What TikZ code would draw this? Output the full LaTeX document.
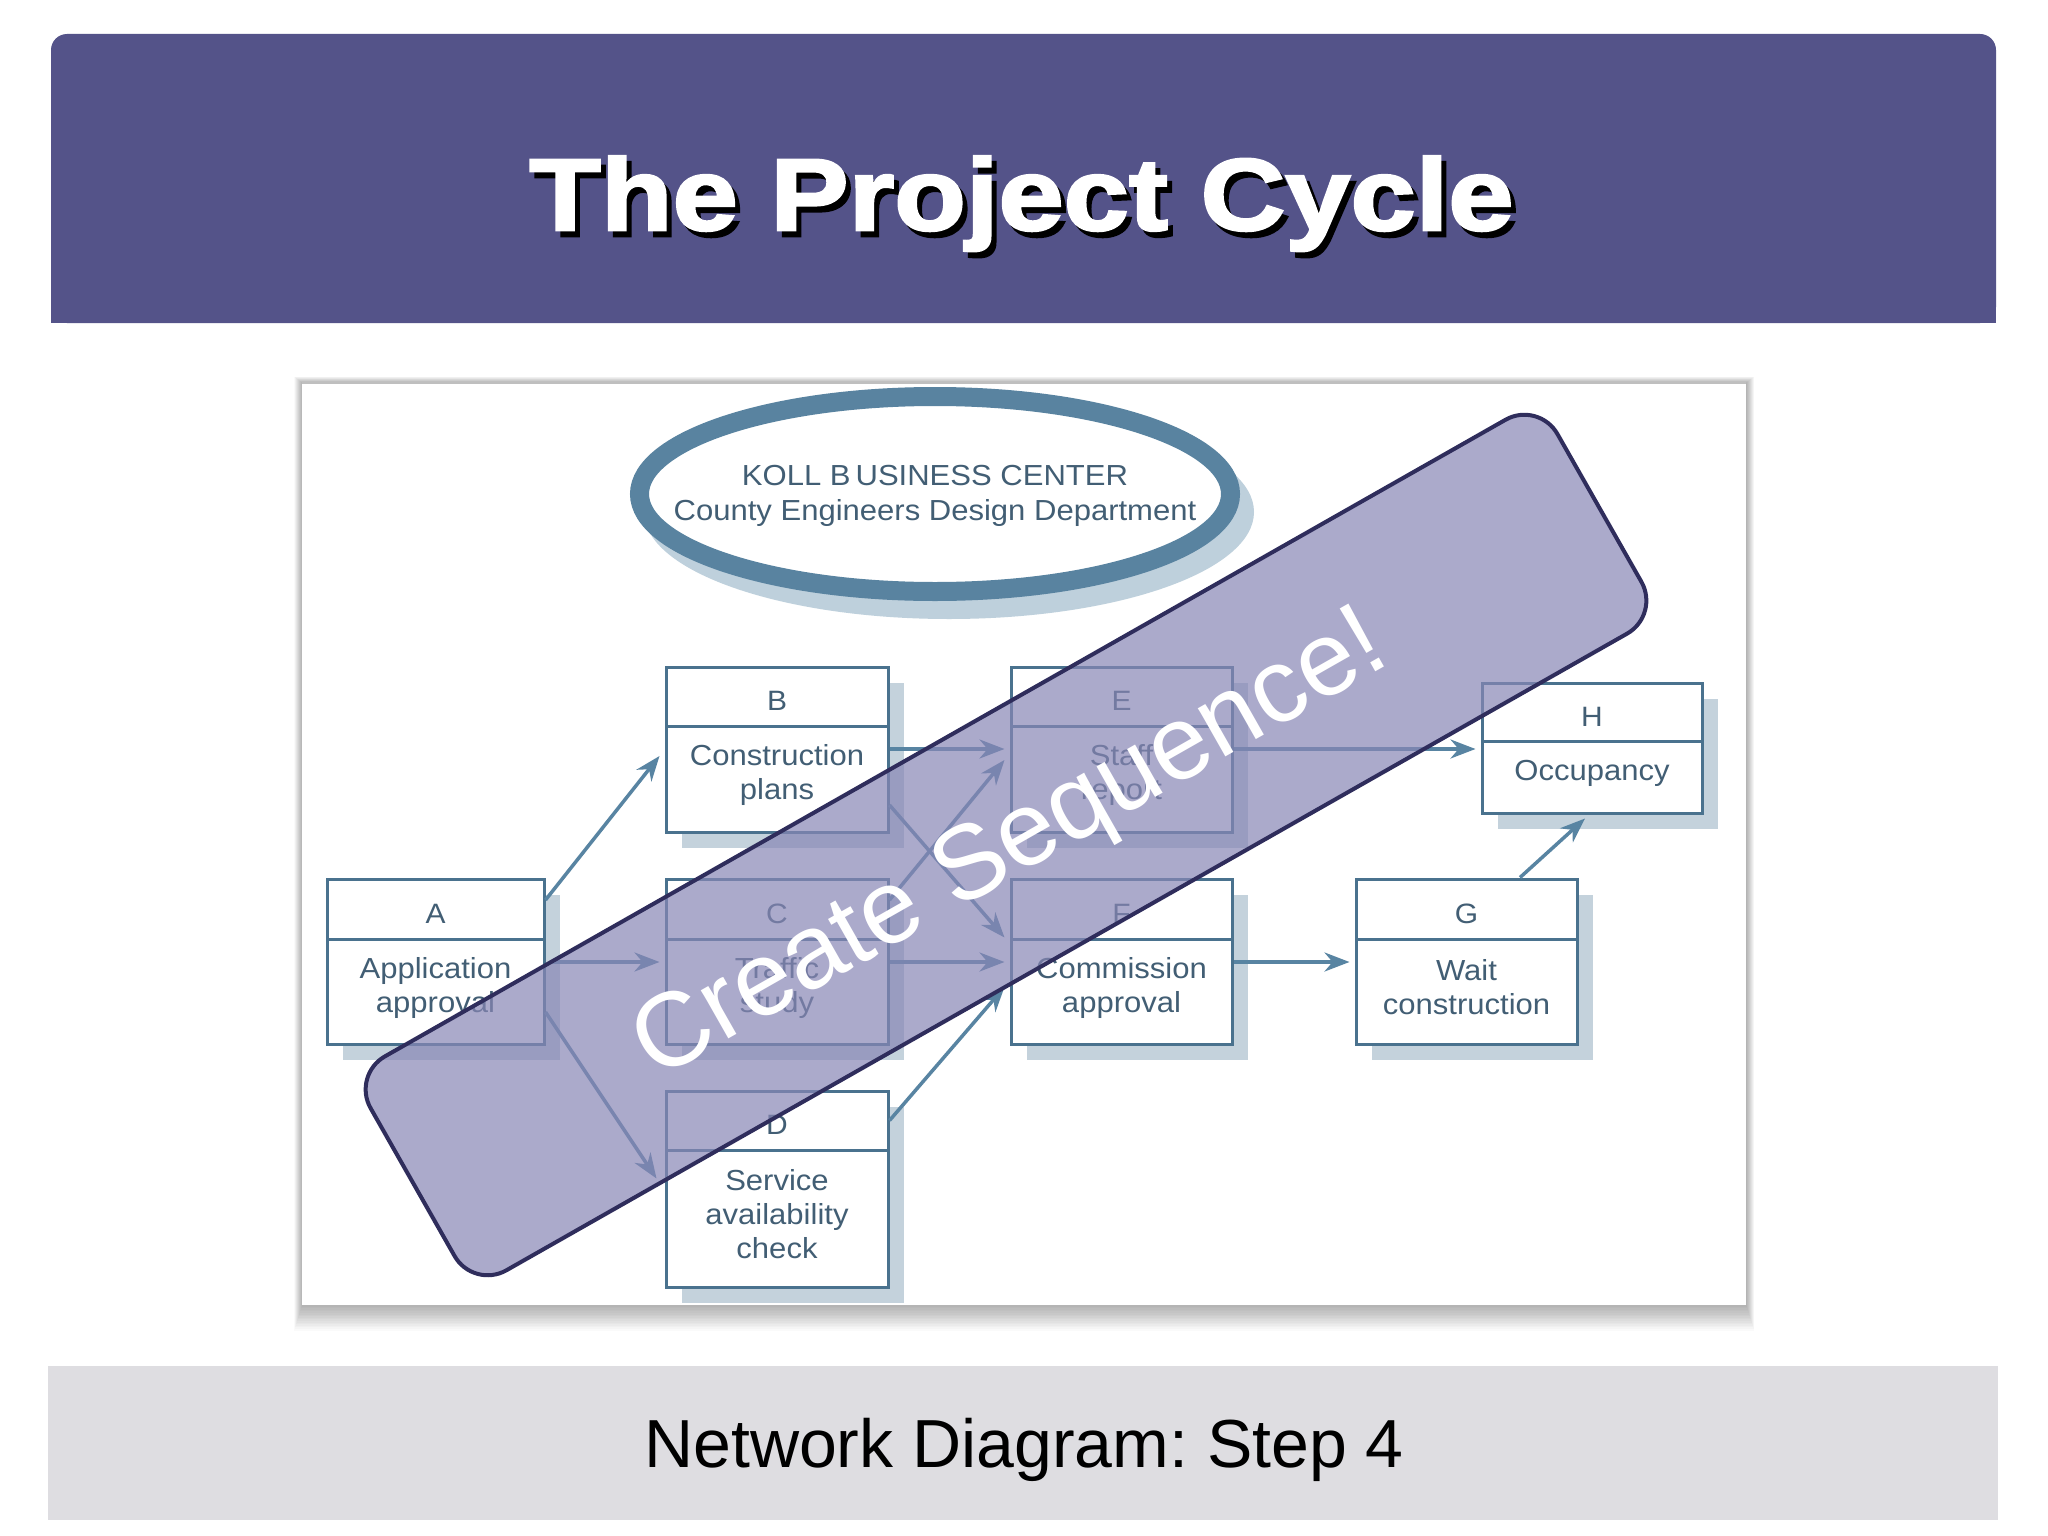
\documentclass[tikz,border=0pt]{standalone}
\usepackage{fontspec}
\usepackage{graphicx}
\setmainfont{Liberation Sans}
\newfontfamily\diagfont[FakeStretch=1.07]{Liberation Sans}
\newfontfamily\titlefont[FakeStretch=1.15,FakeBold=2.5]{Liberation Sans Bold}
\usetikzlibrary{arrows.meta}
\frenchspacing
\definecolor{headcol}{RGB}{84,83,137}
\definecolor{footcol}{RGB}{222,221,225}
\definecolor{ringcol}{RGB}{89,131,160}
\definecolor{ellshadow}{RGB}{190,208,220}
\definecolor{boxline}{RGB}{74,114,142}
\definecolor{boxshadow}{RGB}{196,210,220}
\definecolor{boxtext}{RGB}{66,94,116}
\definecolor{arrowcol}{RGB}{88,132,162}
\definecolor{ovfill}{RGB}{136,134,181}
\definecolor{ovline}{RGB}{47,45,92}
\newcommand\netbox[8]{%
  \fill[boxshadow] (#2+16,#4+16) rectangle (#3+16,#6+16);
  \node[boxhead, minimum width={#3-#2}, minimum height={#5-#4}] (#1h) at ({(#2+#3)/2},{(#4+#5)/2}) {#7};
  \node[boxbody, minimum width={#3-#2}, minimum height={#6-#5}] (#1) at ({(#2+#3)/2},{(#5+#6)/2}) {};
  \node[bodytext] (#1t) at ([yshift=4pt]#1.center) {#8};
}
\begin{document}
\begin{tikzpicture}[x=1pt,y=-1pt,
  boxhead/.style={draw=boxline, line width=3pt, fill=white, inner sep=0pt, text height=28pt, text depth=0pt, text=boxtext, font=\diagfont\fontsize{28}{32}\selectfont},
  boxbody/.style={draw=boxline, line width=3pt, fill=white, inner sep=0pt},
  bodytext/.style={inner sep=0pt, align=center, text=boxtext, font=\diagfont\fontsize{29}{34}\selectfont},
  netarrow/.style={draw=arrowcol, line width=3.5pt, -{Stealth[length=25pt,width=19pt]}},
  elltext/.style={anchor=base, inner sep=0pt, text=boxtext, font=\diagfont\fontsize{29}{33}\selectfont}
]
\useasboundingbox (0,0) rectangle (2048,1536);
\fill[white] (0,0) rectangle (2048,1536);

% header band
\fill[headcol, rounded corners=16pt] (51,34) rectangle (1996,323);
\fill[headcol] (51,100) rectangle (1996,323);
\node[anchor=base, inner sep=0pt, text=black, font=\titlefont\fontsize{102}{110}\selectfont] (titleshadow) at (1026.5,236) {The Project Cycle};
\node[anchor=base, inner sep=0pt, text=white, font=\titlefont\fontsize{102}{110}\selectfont] (title) at (1021.5,230) {The Project Cycle};

% footer band
\fill[footcol] (48,1366) rectangle (1998,1520);
\node[anchor=base, inner sep=0pt, text=black, font=\fontsize{68}{76}\selectfont] (footer) at (1024,1467) {Network Diagram: Step 4};

% panel with soft shadow
\foreach \i in {1,...,16} {
  \fill[black, opacity=0.02] (302-0.5*\i,383-0.4*\i) rectangle (1746+0.5*\i,1305+1.6*\i);
}
\fill[white] (302,383) rectangle (1746,1305);
\draw[black!25, line width=1.5pt] (302,383) -- (1746,383);

% ellipse
\fill[ellshadow] (949,512) ellipse [x radius=305, y radius=107];
\draw[ringcol, line width=19pt, fill=white] (935,494) ellipse [x radius=295.5, y radius=97.5];
\node[elltext] (koll1) at (935,485) {KOLL B\kern5pt USINESS CENTER};
\node[elltext] (koll2) at (935,520) {County Engineers Design Department};

% boxes
\netbox{A}{327}{544}{879}{939}{1044}{A}{Application\\approval}
\netbox{B}{666}{888}{667}{726}{832}{B}{Construction\\plans}
\netbox{C}{666}{888}{879}{939}{1044}{C}{Traffic\\study}
\netbox{D}{666}{888}{1091}{1150}{1287}{D}{Service\\availability\\check}
\netbox{E}{1011}{1232}{667}{726}{832}{E}{Staff\\report}
\netbox{F}{1011}{1232}{879}{939}{1044}{F}{Commission\\approval}
\netbox{G}{1356}{1577}{879}{939}{1044}{G}{Wait\\construction}
\netbox{H}{1482}{1702}{683}{741}{813}{H}{Occupancy}

% arrows
\draw[netarrow] ([yshift=9pt]Ah.east) -- ([xshift=-5pt,yshift=23pt]B.west);
\draw[netarrow] ([xshift=4pt,yshift=29.5pt]A.east) -- ([xshift=-5pt,yshift=29.5pt]C.west);
\draw[netarrow] ([yshift=-20.5pt]A.east) -- ([xshift=-8pt,yshift=40pt]D.west);
\draw[netarrow] ([yshift=30pt]B.east) -- ([xshift=-5pt,yshift=30pt]E.west);
\draw[netarrow] ([yshift=-26pt]B.east) -- ([xshift=-5pt]F.north west);
\draw[netarrow] ([yshift=9pt]Ch.east) -- ([xshift=-5pt,yshift=19pt]E.west);
\draw[netarrow] ([yshift=29.5pt]C.east) -- ([xshift=-5pt,yshift=29.5pt]F.west);
\draw[netarrow] (Dh.east) -- ([xshift=-5pt,yshift=4.5pt]F.west);
\draw[netarrow] ([yshift=30pt]E.east) -- ([xshift=-5pt,yshift=28pt]H.west);
\draw[netarrow] ([yshift=29.5pt]F.east) -- ([xshift=-5pt,yshift=29.5pt]G.west);
\draw[netarrow] ([xshift=53.5pt]Gh.north) -- ([xshift=-7pt,yshift=-4pt]H.south);

% overlay band
\node[rotate=29.6, minimum width=1365pt, minimum height=246pt, inner sep=0pt,
      rounded corners=38pt, fill=ovfill, fill opacity=0.7, draw=ovline, line width=4pt] (band) at (1006,845) {};
\node[rotate=29.6, inner sep=0pt, text=white, font=\fontsize{105}{110}\selectfont] (seq) at (1012,849) {Create Sequence!};
\end{tikzpicture}
\end{document}
